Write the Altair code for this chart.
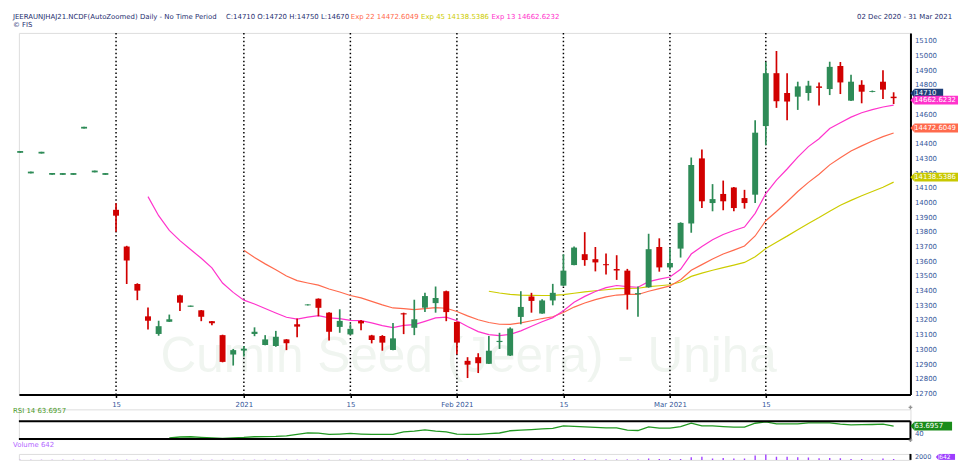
import altair as alt
import pandas as pd

# ---------------- data ----------------
# x = trading-day index: 0 = 02 Dec 2020 ... 82 = 31 Mar 2021
opens = [14338, 14198, 14333, 14188, 14188, 14188, 14503, 14205, 14188, 13950,
         13700, 13445, 13225, 13105, 13188, 13368, 13290, 13266, 13192, 13097,
         12965, 12992, 13105, 13030, 13023, 13068, 13171, 13300, 13345, 13250,
         13153, 13102, 13194, 13095, 13091, 12996, 13246, 13147, 13284, 13315,
         13396, 13187, 12922, 12947, 12902, 13050, 12958, 13221, 13360, 13244,
         13333, 13434, 13574, 13648, 13614, 13580, 13547, 13536, 13375, 13423,
         13697, 13558, 13686, 13857, 14300, 13996, 14058, 14102, 14030, 14053,
         14520, 14880, 14745, 14720, 14745, 14790, 14772, 14929, 14693, 14801,
         14752, 14822, 14720]
highs = [14350, 14210, 14345, 14200, 14200, 14200, 14515, 14217, 14200, 13995,
         13705, 13450, 13285, 13195, 13237, 13372, 13298, 13268, 13194, 13100,
         13003, 13023, 13150, 13097, 13126, 13070, 13210, 13307, 13347, 13252,
         13273, 13171, 13200, 13099, 13097, 13180, 13250, 13338, 13385, 13428,
         13400, 13190, 12947, 12974, 13091, 13113, 13150, 13396, 13385, 13342,
         13446, 13648, 13700, 13798, 13697, 13652, 13641, 13548, 13428, 13787,
         13756, 13689, 13865, 14306, 14360, 14125, 14149, 14105, 14086, 14559,
         14956, 15031, 14880, 14822, 14828, 14817, 14958, 14956, 14869, 14832,
         14762, 14900, 14750]
lows = [14338, 14198, 14333, 14188, 14188, 14188, 14503, 14205, 14188, 13800,
        13445, 13335, 13135, 13093, 13187, 13262, 13290, 13192, 13165, 12912,
        12890, 12952, 13090, 13028, 13018, 12995, 13082, 13299, 13225, 13060,
        13113, 13100, 13131, 13041, 12991, 12994, 13104, 13097, 13254, 13250,
        13192, 12967, 12805, 12839, 12900, 13003, 12955, 13171, 13250, 13242,
        13300, 13432, 13572, 13569, 13531, 13509, 13473, 13271, 13222, 13420,
        13529, 13542, 13625, 13794, 13962, 13940, 13947, 13940, 13958, 13996,
        14390, 14644, 14559, 14630, 14693, 14660, 14731, 14738, 14690, 14675,
        14750, 14704, 14670]
closes = [14350, 14210, 14345, 14200, 14200, 14200, 14515, 14217, 14200, 13910,
          13605, 13400, 13195, 13158, 13205, 13318, 13298, 13222, 13178, 12915,
          12995, 13005, 13120, 13068, 13086, 13042, 13155, 13306, 13283, 13120,
          13194, 13140, 13177, 13064, 13046, 13075, 13238, 13205, 13363, 13350,
          13254, 13046, 12896, 12906, 12991, 13058, 13142, 13289, 13330, 13333,
          13385, 13536, 13693, 13608, 13592, 13573, 13537, 13374, 13383, 13682,
          13558, 13588, 13861, 14255, 14008, 14023, 14008, 13962, 13996, 14475,
          14880, 14689, 14687, 14790, 14795, 14780, 14923, 14817, 14822, 14754,
          14758, 14768, 14710]

ema13_start = 12
ema13 = [14040, 13910, 13810, 13740, 13680, 13620, 13555, 13452, 13388, 13335,
         13309, 13278, 13248, 13219, 13206, 13220, 13230, 13215, 13209, 13198,
         13196, 13180, 13162, 13148, 13163, 13169, 13191, 13214, 13220, 13195,
         13156, 13121, 13101, 13094, 13102, 13126, 13158, 13188, 13216, 13263,
         13321, 13361, 13394, 13420, 13435, 13427, 13423, 13461, 13478, 13493,
         13545, 13649, 13701, 13746, 13782, 13809, 13833, 13926, 14060, 14152,
         14228, 14309, 14380, 14434, 14503, 14543, 14581, 14611, 14632, 14650,
         14662.6232]
ema22_start = 21
ema22 = [13675, 13625, 13582, 13542, 13500, 13468, 13452, 13437, 13411, 13391,
         13367, 13351, 13327, 13303, 13282, 13277, 13271, 13278, 13284, 13280,
         13258, 13228, 13202, 13183, 13171, 13170, 13180, 13195, 13210, 13222,
         13251, 13288, 13316, 13339, 13357, 13370, 13374, 13374, 13396, 13414,
         13432, 13474, 13538, 13577, 13615, 13649, 13676, 13704, 13772, 13876,
         13939, 14005, 14075, 14137, 14192, 14256, 14305, 14350, 14385, 14418,
         14448, 14472.6049]
ema45_start = 44
ema45 = [13396, 13384, 13375, 13370, 13368, 13367, 13368, 13373, 13382, 13391,
         13399, 13406, 13413, 13415, 13416, 13427, 13433, 13440, 13459, 13497,
         13519, 13539, 13557, 13574, 13592, 13630, 13686, 13730, 13771, 13815,
         13857, 13897, 13941, 13981, 14014, 14046, 14075, 14104, 14138.5386]

rsi_start = 14
rsi = [24.4, 27.0, 27.8, 26.0, 24.4, 22.2, 24.4, 25.5, 27.8, 28.0,
       29.0, 31.0, 35.6, 41.0, 40.0, 35.6, 37.0, 39.0, 37.0, 35.6,
       35.6, 35.6, 44.4, 46.5, 51.0, 47.0, 44.0, 37.0, 35.6, 35.6,
       38.0, 40.5, 48.0, 50.0, 52.0, 54.4, 56.0, 64.4, 63.0, 61.0,
       59.5, 58.0, 57.8, 50.0, 48.9, 61.1, 56.7, 56.7, 62.0, 73.3,
       64.4, 64.4, 62.0, 60.0, 60.0, 73.3, 77.8, 71.1, 71.0, 71.1,
       74.4, 74.4, 74.4, 70.0, 67.8, 68.5, 69.0, 70.0, 63.6957]

volumes = [60, 50, 70, 40, 60, 50, 80, 60, 50, 90,
           90, 80, 70, 80, 60, 90, 60, 70, 60, 100,
           90, 70, 80, 70, 90, 80, 90, 60, 100, 100,
           90, 80, 90, 90, 100, 100, 100, 100, 110, 110,
           110, 120, 330, 120, 110, 100, 150, 330, 200, 220,
           250, 330, 400, 400, 330, 330, 330, 330, 330, 880,
           640, 640, 640, 1830, 2070, 880, 1285, 880, 880, 2880,
           3665, 2070, 2070, 1690, 1520, 1050, 1285, 1120, 640, 640,
           330, 880, 642]

tick_idx = [9, 21, 31, 41, 51, 61, 70]
tick_labels = ["15", "2021", "15", "Feb 2021", "15", "Mar 2021", "15"]
# price labels that are not hidden behind the last-value tags
price_ticks = [12700, 12800, 12900, 13000, 13100, 13200, 13300, 13400, 13500,
               13600, 13700, 13800, 13900, 14000, 14100, 14200, 14300, 14400,
               14600, 14800, 14900, 15000, 15100]

tag_values = [14710, 14662.6232, 14472.6049, 14138.5386]
tag_texts = ["14710", "14662.6232", "14472.6049", "14138.5386"]

title_main = "JEERAUNJHAJ21.NCDF(AutoZoomed) Daily -  No Time Period"
title_ohlc = "C:14710 O:14720 H:14750 L:14670"
title_e22 = "Exp 22 14472.6049"
title_e45 = "Exp 45 14138.5386"
title_e13 = "Exp 13 14662.6232"
date_range = "02 Dec 2020  -  31 Mar 2021"
rsi_title = "RSI 14  63.6957"
rsi_last = "63.6957"
rsi_last_value = 63.6957
rsi_ticks = [40]
vol_title = "Volume  642"
vol_last = "642"
vol_ticks = [2000]
watermark = "Cumin Seed (Jeera) - Unjha"

# ---------------- styles ----------------
FONT = "DejaVu Sans"
NAVY = "#1f2f6f"
LBL = "#34569a"
UP = "#2e8b57"
DOWN = "#d10000"
C13 = "#ff33cc"
C22 = "#ff6a4d"
C45 = "#cccc00"
RSI_C = "#229922"
VOL_C = "#a040ff"

W = 900
H_MAIN = 365
H_RSI = 30      # panel box occupies the lower 18 px
RSI_TOP = 12
H_VOL = 6       # only the top strip of the volume pane fits in the window
GAP = 15

# ---------------- tables ----------------
N = len(closes)
candles = pd.DataFrame({"i": list(range(N)), "o": opens, "h": highs, "l": lows, "c": closes})
candles["dir"] = ["up" if c >= o else "down" for o, c in zip(opens, closes)]
candles["b0"] = [min(o, c) for o, c in zip(opens, closes)]
candles["b1"] = [max(o, c) for o, c in zip(opens, closes)]


def series_df(start, vals):
    return pd.DataFrame({"i": list(range(start, start + len(vals))), "v": vals})


rsi_df = series_df(rsi_start, rsi)
vol_df = pd.DataFrame({"i": list(range(N)), "vol": volumes})
ticks_df = pd.DataFrame({"i": tick_idx})

# ---------------- scales / axes ----------------
x_scale = alt.Scale(domain=[-0.12, 83.58], nice=False, zero=False, padding=0)
y_scale = alt.Scale(domain=[12693, 15154], nice=False, zero=False, padding=0)

label_expr = " : ".join(f"datum.value == {i} ? '{t}'" for i, t in zip(tick_idx, tick_labels)) + " : ''"
x_axis = alt.Axis(values=tick_idx, labelExpr=label_expr, title=None, grid=False,
                  domainColor="black", domainWidth=2, tickColor="black", tickWidth=1.5,
                  tickSize=3, labelColor=LBL, labelFont=FONT, labelFontSize=7,
                  labelPadding=3, labelFlush=False, labelOverlap=False)


def right_axis(values, domain=True, label_offset=0, size=7):
    return alt.Axis(orient="right", values=values, title=None, grid=False, format="d",
                    domain=domain, domainColor="black", domainWidth=2, ticks=False,
                    labelColor=LBL, labelFont=FONT, labelFontSize=size, labelPadding=4,
                    labelOverlap=False, labelOffset=label_offset)


y_axis = right_axis(price_ticks)

X = alt.X("i:Q", scale=x_scale, axis=x_axis)
X_plain = alt.X("i:Q", scale=x_scale, axis=None)


def Ym(f):
    return alt.Y(f"{f}:Q", scale=y_scale, axis=y_axis)


one = alt.Data(values=[{}])


def txt(text, x, y, color, size=7, font=FONT, align="left", opacity=1.0):
    return alt.Chart(one).mark_text(
        text=text, align=align, baseline="middle", font=font, fontSize=size,
        color=color, opacity=opacity
    ).encode(x=alt.value(x), y=alt.value(y))


def rule(x1, x2, y1, y2, width=2, color="black"):
    return alt.Chart(one).mark_rule(color=color, strokeWidth=width).encode(
        x=alt.value(x1), x2=alt.value(x2), y=alt.value(y1), y2=alt.value(y2))


def tag_layers(data, yenc, text, color, width, dy=0.0, height=9.0, x0=W, fs=7, align="left"):
    base = alt.Chart(data)
    body = base.mark_tick(orient="horizontal", size=width - 4, thickness=height, color=color,
                          opacity=1, yOffset=dy).encode(
        x=alt.value(x0 + 4 + (width - 4) / 2.0), y=yenc)
    tip = base.mark_point(shape="M-0.45,0L0.45,-1L0.45,1Z", size=height * height, filled=True,
                          color=color, opacity=1, strokeWidth=0, yOffset=dy).encode(
        x=alt.value(x0 + 2), y=yenc)
    tx = x0 + 4 if align == "left" else x0 + width - 2
    label = base.mark_text(text=text, align=align, baseline="middle", font=FONT,
                           fontSize=fs, color="white", dy=dy).encode(
        x=alt.value(tx), y=yenc)
    return [body, tip, label]


dir_color = alt.Color("dir:N", scale=alt.Scale(domain=["up", "down"], range=[UP, DOWN]), legend=None)

# ---------------- main price panel ----------------
wm = txt(watermark, 454, 327, "#f0f5f0", size=50, font="Liberation Sans", align="center")

dotted = alt.Chart(ticks_df).mark_rule(color="black", strokeWidth=1.5, strokeDash=[1.5, 2.5]).encode(x=X)

ema_layers = [
    alt.Chart(series_df(ema45_start, ema45)).mark_line(strokeWidth=1.2, color=C45).encode(x=X, y=Ym("v")),
    alt.Chart(series_df(ema22_start, ema22)).mark_line(strokeWidth=1.2, color=C22).encode(x=X, y=Ym("v")),
    alt.Chart(series_df(ema13_start, ema13)).mark_line(strokeWidth=1.2, color=C13).encode(x=X, y=Ym("v")),
]

wicks = alt.Chart(candles).mark_rule(strokeWidth=1.7).encode(x=X, y=Ym("l"), y2="h:Q", color=dir_color)
bodies = alt.Chart(candles).mark_bar(size=6).encode(x=X, y=Ym("b0"), y2="b1:Q", color=dir_color)

tag_colors = ["#1c3d78", C13, C22, "#c8c800"]
tag_widths = [33, 48, 48, 48]
tag_aligns = ["left", "right", "right", "right"]
main_tags = []
for v, t, c, w, a in zip(tag_values, tag_texts, tag_colors, tag_widths, tag_aligns):
    main_tags += tag_layers(alt.Data(values=[{"tv": v}]), Ym("tv"), t, c, w, dy=-5, align=a)

titles = [
    txt(title_main, -6, -15.7, NAVY),
    txt(title_ohlc, 209, -15.7, NAVY),
    txt(title_e22, 335, -15.7, C22),
    txt(title_e45, 406, -15.7, C45),
    txt(title_e13, 477, -15.7, C13),
    txt(date_range, 942, -15.7, NAVY, align="right"),
    txt("\u00a9 FIS", -6, -8.3, NAVY),
]

# invisible 1px box pinning the top-left corner of the drawing to the page corner
corner = alt.Chart(one).mark_rect(opacity=0).encode(
    x=alt.value(-10), x2=alt.value(-9), y=alt.value(-22), y2=alt.value(-21))

main = alt.layer(corner, wm, dotted, *ema_layers, wicks, bodies,
                 *main_tags, *titles).properties(width=W, height=H_MAIN)

# ---------------- RSI panel ----------------
rsi_scale = alt.Scale(domain=[20, 120], nice=False, zero=False, padding=0)
rsi_axis = right_axis(rsi_ticks, domain=False)
rsi_line = alt.Chart(rsi_df).mark_line(color=RSI_C, strokeWidth=1.3).encode(
    x=X_plain, y=alt.Y("v:Q", scale=rsi_scale, axis=rsi_axis))
cross_a = alt.Chart(one).mark_point(shape="cross", size=14, filled=True, color="#666666").encode(
    x=alt.value(W), y=alt.value(-2))
cross_b = alt.Chart(one).mark_point(shape="cross", size=14, filled=True, color="#666666").encode(
    x=alt.value(W), y=alt.value(H_RSI + 1))
rsi_panel = alt.layer(
    rsi_line,
    rule(0, W, RSI_TOP, RSI_TOP), rule(0, W, H_RSI, H_RSI), rule(W, W, RSI_TOP, H_RSI),
    cross_a, cross_b,
    *tag_layers(alt.Data(values=[{"tv": rsi_last_value}]),
                alt.Y("tv:Q", scale=rsi_scale, axis=rsi_axis), rsi_last, "#1a8c1a", 42),
    txt(rsi_title, -6, 1.3, "#4c9a2a"),
).properties(width=W, height=H_RSI)

# ---------------- volume panel (top strip only) ----------------
vol_scale = alt.Scale(domain=[0, 4000], nice=False, padding=0)
vol_axis = right_axis(vol_ticks, domain=False, size=6.5)
vol_bars = alt.Chart(vol_df).mark_bar(size=1.4, color=VOL_C, clip=True).encode(
    x=X_plain, y=alt.Y("vol:Q", scale=vol_scale, axis=vol_axis))
vol_panel = alt.layer(
    vol_bars,
    rule(W, W, 0, H_VOL),
    *tag_layers(one, alt.value(H_VOL / 2.0), vol_last, "#9d3dff", 20, height=6, x0=W + 25, fs=6),
    txt(vol_title, -6, -8.5, "#b366ff"),
).properties(width=W, height=H_VOL)

chart = alt.vconcat(main, rsi_panel, vol_panel, spacing=GAP, bounds="flush").properties(
    padding=0
).configure_view(strokeWidth=0).configure(background="white")

chart.save("out.html", embed_options={"renderer": "svg", "actions": False})
